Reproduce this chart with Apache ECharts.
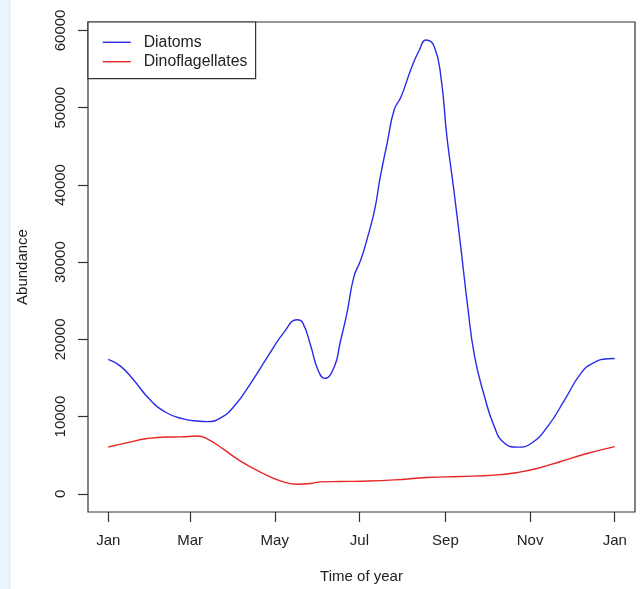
<!DOCTYPE html>
<html>
<head>
<meta charset="utf-8">
<script src="https://cdn.jsdelivr.net/npm/echarts@6/dist/echarts.min.js"></script>
<style>
  html, body { margin: 0; padding: 0; background: #ffffff; }
  #chart { width: 640px; height: 589px; background: linear-gradient(to right, #eaf4fb 11px, #ffffff 11px); }
</style>
</head>
<body>
<div id="chart"></div>
<script>
// Tick labels
const monthTicks = [0, 59, 120, 181, 243, 304, 365];
const monthLabels = ['Jan', 'Mar', 'May', 'Jul', 'Sep', 'Nov', 'Jan'];
const yTicks = [0, 10000, 20000, 30000, 40000, 50000, 60000];

// Series names
const seriesNames = ['Diatoms', 'Dinoflagellates'];

// Diatoms (day of year, abundance)
const diatomDays = [0, 9, 18, 30, 42, 54, 66, 71, 81, 91, 103, 115, 127, 136, 140, 146, 151, 156, 163, 167, 172, 177, 182, 187, 192, 196, 201, 206, 211, 218, 224, 229, 235, 240, 244, 249, 254, 259, 264, 271, 278, 285, 295, 305, 317, 329, 341, 350, 360, 365];
const diatomValues = [17400, 16500, 14800, 12200, 10500, 9700, 9400, 9350, 9850, 11400, 14400, 17800, 21000, 22550, 22200, 19100, 16100, 14950, 16500, 19500, 23400, 28100, 30300, 33300, 36800, 41000, 45400, 49700, 51400, 54900, 57400, 58750, 57900, 53600, 46300, 39400, 32000, 24300, 17800, 12700, 8800, 6650, 6050, 6550, 8800, 12200, 15700, 17000, 17500, 17530];

// Dinoflagellates (day of year, abundance)
const dinoDays = [0, 14, 28, 42, 52, 64, 71, 83, 95, 110, 124, 136, 146, 153, 167, 182, 206, 230, 254, 278, 295, 309, 326, 345, 365];
const dinoValues = [6070, 6640, 7160, 7360, 7370, 7490, 7160, 5780, 4260, 2770, 1680, 1250, 1340, 1550, 1600, 1640, 1810, 2120, 2250, 2420, 2770, 3280, 4190, 5220, 6120];

const font = '"Liberation Sans", Arial, Helvetica, sans-serif';
const ink = '#222222';

const chart = echarts.init(document.getElementById('chart'), null, { renderer: 'canvas' });

const option = {
  backgroundColor: 'transparent',
  animation: false,
  grid: {
    left: 88, top: 22, right: 5, bottom: 76,
    show: true, borderColor: '#333333', borderWidth: 1.2, backgroundColor: 'transparent'
  },
  legend: {
    left: 88, top: 22,
    orient: 'vertical', align: 'left',
    borderColor: '#333333', borderWidth: 1.2, borderRadius: 0,
    backgroundColor: '#ffffff',
    padding: [12.3, 8.3, 9, 14],
    itemWidth: 28, itemHeight: 15, itemGap: 3.4,
    itemStyle: { opacity: 0 },
    lineStyle: { width: 1.4 },
    textStyle: { fontFamily: font, fontSize: 15.8, color: ink, padding: [0, 0, 0, 8] },
    data: seriesNames
  },
  xAxis: {
    type: 'value',
    min: -14.6, max: 379.6,
    name: 'Time of year', nameLocation: 'middle', nameGap: 57,
    nameTextStyle: { fontFamily: font, fontSize: 15, color: ink },
    axisLine: { show: false, onZero: false },
    splitLine: { show: false },
    axisTick: { show: true, customValues: monthTicks, length: 10, lineStyle: { color: '#333333', width: 1.2 } },
    axisLabel: {
      customValues: monthTicks, margin: 21,
      fontFamily: font, fontSize: 15, color: ink,
      formatter: function (v) { return monthLabels[monthTicks.indexOf(Math.round(v))]; }
    }
  },
  yAxis: {
    type: 'value',
    min: -2350, max: 61090,
    name: 'Abundance', nameLocation: 'middle', nameGap: 58,
    nameTextStyle: { fontFamily: font, fontSize: 15, color: ink },
    axisLine: { show: false, onZero: false },
    splitLine: { show: false },
    axisTick: { show: true, customValues: yTicks, length: 10, lineStyle: { color: '#333333', width: 1.2 } },
    axisLabel: {
      customValues: yTicks, margin: 20, rotate: 90,
      fontFamily: font, fontSize: 15, color: ink,
      formatter: function (v) { return String(v); }
    }
  },
  series: [
    {
      name: seriesNames[0], type: 'line', smooth: 0.5, symbol: 'none',
      lineStyle: { color: '#2a2ae8', width: 1.4 }, itemStyle: { color: '#2a2ae8' },
      data: diatomDays.map((d, i) => [d, diatomValues[i]]),
      z: 3
    },
    {
      name: seriesNames[1], type: 'line', smooth: 0.5, symbol: 'none',
      lineStyle: { color: '#e82424', width: 1.4 }, itemStyle: { color: '#e82424' },
      data: dinoDays.map((d, i) => [d, dinoValues[i]]),
      z: 3
    }
  ]
};

chart.setOption(option);
</script>
</body>
</html>
